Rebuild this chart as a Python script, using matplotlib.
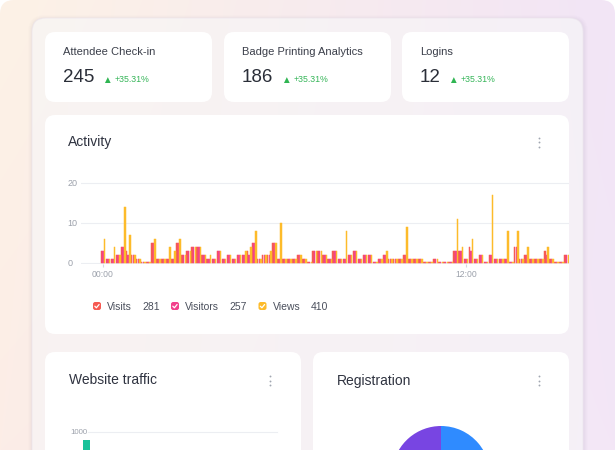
import numpy as np
import matplotlib
matplotlib.use("Agg")
import matplotlib.pyplot as plt
from matplotlib.patches import FancyBboxPatch
from matplotlib.colors import to_rgb

plt.rcParams['font.family'] = ['Liberation Sans', 'DejaVu Sans']

W, H = 615, 450

# --- stat cards
stat_titles = ["Attendee Check-in", "Badge Printing Analytics", "Logins"]
stat_values = ["245", "186", "12"]
stat_changes = ["+35.31%", "+35.31%", "+35.31%"]

# --- activity, 10-minute buckets starting 00:00 (chart is cut at the card edge)
visits = [3, 1, 1, 2, 4, 3, 2, 1, 0.3, 0.3, 5, 1, 1, 1, 1, 5, 2, 3, 4, 4, 2, 1, 1, 3, 1,
          2, 1, 2, 2, 3, 5, 1, 2, 2, 5, 1, 1, 1, 1, 2, 1, 0.3, 3,
          3, 2, 1, 3, 1, 1, 2, 3, 1, 2, 2, 0.3, 1, 2, 1, 1, 1, 2, 1, 1, 1, 0.3, 0.3, 1, 0.3,
          0.3, 0.3, 3, 3, 1, 4, 1, 2, 0.3, 2, 1, 1, 1, 0.3, 4, 1, 2, 1, 1, 1, 3, 1, 0.3, 0.3, 2]
visitors = [3, 1, 1, 2, 4, 2, 2, 1, 0.3, 0.3, 5, 1, 1, 1, 1, 5, 2, 3, 4, 4, 2, 1, 1, 3, 1,
            2, 1, 2, 2, 2, 5, 1, 2, 2, 5, 1, 1, 1, 1, 2, 1, 0.3, 3,
            3, 2, 1, 3, 1, 1, 2, 3, 1, 2, 2, 0.3, 1, 2, 1, 1, 1, 2, 1, 1, 1, 0.3, 0.3, 1, 0.3,
            0.3, 0.3, 3, 3, 1, 3, 1, 2, 0.3, 2, 1, 1, 1, 0.3, 4, 1, 2, 1, 1, 1, 2, 1, 0.3, 0.3, 2]
views = [6, 1, 4, 2, 14, 7, 2, 1, 0.3, 0.3, 6, 1, 1, 4, 3, 6, 2, 3, 4, 4, 2, 2, 1, 3, 1,
         2, 1, 2, 3, 4, 8, 1, 2, 3, 5, 10, 1, 1, 1, 2, 1, 0.3, 3,
         3, 2, 1, 3, 1, 8, 2, 3, 1, 2, 2, 0.3, 1, 3, 1, 1, 1, 9, 1, 1, 1, 0.3, 0.3, 1, 0.3,
         0.3, 0.3, 11, 4, 1, 6, 1, 2, 0.3, 17, 1, 1, 8, 0.3, 8, 1, 4, 1, 1, 1, 4, 1, 0.3, 0.3, 2]
series_names = ["Visits", "Visitors", "Views"]
series_totals = ["281", "257", "410"]
series_colors = ["#f65a52", "#f2418c", "#fdbb2a"]
time_ticks = [0, 72]
time_labels = ["00:00", "12:00"]

# --- bottom cards (only their top parts are visible)
traffic_visits = [900]
registration_shares = [55, 45]
registration_colors = ["#2f8bff", "#7845e2"]

GRID = "#eceef2"
TICK = "#9ca1ab"


def px_axes(fig, x0, y0, x1, y1):
    return fig.add_axes([x0 / W, 1 - y1 / H, (x1 - x0) / W, (y1 - y0) / H])


def card(ax, x0, y0, x1, y1, r=10, fc="white", **kw):
    p = FancyBboxPatch((x0, y0), x1 - x0, y1 - y0,
                       boxstyle=f"round,pad=0,rounding_size={r}", fc=fc, **kw)
    ax.add_patch(p)
    return p


def kebab(ax, x, y):
    ax.scatter([x] * 3, [y - 4.5, y, y + 4.5], s=1.8, c="#a0a6b1", lw=0, zorder=5)


fig = plt.figure(figsize=(W / 100, H / 100), dpi=100, facecolor="white")
bg = fig.add_axes([0, 0, 1, 1])
bg.set_xlim(0, W)
bg.set_ylim(H, 0)
bg.axis("off")

# soft gradient background, clipped to rounded frame
tl, tr = np.array(to_rgb("#fdf2e6")), np.array(to_rgb("#f2e5f6"))
bl, br = np.array(to_rgb("#fcede7")), np.array(to_rgb("#f3e7f7"))
u = np.linspace(0, 1, W)[None, :, None]
v = np.linspace(0, 1, H)[:, None, None]
img = (1 - v) * ((1 - u) * tl + u * tr) + v * ((1 - u) * bl + u * br)
im = bg.imshow(img, extent=(0, W, H, 0), aspect="auto", zorder=0)
frame = FancyBboxPatch((0, 0), W, H + 30, boxstyle="round,pad=0,rounding_size=14",
                       transform=bg.transData)
im.set_clip_path(frame)
bg.set_xlim(0, W)
bg.set_ylim(H, 0)

# outer panel with a faint shadow
for i, a in enumerate([0.025, 0.02, 0.015, 0.01]):
    card(bg, 32 - i - 1, 18 - i, 583 + i + 2, H + 40, r=14 + i, fc="#6b5f80",
         alpha=a, lw=0, zorder=1)
card(bg, 32, 18, 583, H + 40, r=14, fc="white", alpha=0.6,
     ec="#ebe4ec", lw=0.8, zorder=2)

# stat cards
stat_boxes = [(45, 212), (224, 391), (402, 569)]
renderer = fig.canvas.get_renderer()
for (x0, x1), title, val, chg in zip(stat_boxes, stat_titles, stat_values, stat_changes):
    card(bg, x0, 32, x1, 102, r=10, zorder=3, lw=0)
    bg.text(x0 + 18, 52, title, fontsize=8, color="#3b3f4a", va="center", zorder=4)
    t = bg.text(x0 + 18, 77.5, val, fontsize=13.5, color="#2a2e38", va="center", zorder=4)
    right = t.get_window_extent(renderer).x1
    bg.text(right + 7.5, 80, "▲", fontsize=7, color="#2fb552", va="center",
            ha="left", zorder=4)
    bg.text(right + 20, 80, chg, fontsize=6.3, color="#35b558", va="center", zorder=4)

# activity card
card(bg, 45, 115, 569, 334, r=10, zorder=3, lw=0)
bg.text(68, 142, "Activity", fontsize=10, color="#2f3340", va="center", zorder=4)
kebab(bg, 539, 142)

ax = px_axes(fig, 81, 182, 569, 264)
ax.set_zorder(5)
ax.patch.set_alpha(0)
idx = np.arange(len(visits))
for off, vals, col in zip([-0.32, 0, 0.32], [visits, visitors, views], series_colors):
    ax.bar(idx + off, vals, width=0.3, color=col, ec=col, lw=0.35, zorder=3)
ax.set_xlim(-4.37, 92.46)
ax.set_ylim(-0.25, 20.25)
ax.set_yticks([0, 10, 20])
ax.set_xticks(time_ticks)
ax.set_xticklabels(time_labels)
for s in ax.spines.values():
    s.set_visible(False)
ax.grid(axis="y", color=GRID, lw=0.8, zorder=0)
ax.tick_params(axis="y", length=0, labelsize=6.5, labelcolor=TICK, pad=9.5)
for lab in ax.get_yticklabels():
    lab.set_horizontalalignment("left")
ax.tick_params(axis="x", length=2.5, color="#d6d9df", labelsize=6.2, labelcolor=TICK, pad=2)

# legend
leg_icon_x = [97, 175, 262.5]
for x, name, tot, col in zip(leg_icon_x, series_names, series_totals, series_colors):
    card(bg, x - 4, 302, x + 4, 310, r=2.2, fc=col, lw=0, zorder=4)
    bg.plot([x - 2.2, x - 0.6, x + 2.1], [306.2, 307.8, 304.5], color="white",
            lw=0.9, solid_capstyle="round", zorder=5)
    t = bg.text(x + 10, 306.5, name, fontsize=7.5, color="#4a4f5c", va="center", zorder=4)
    right = t.get_window_extent(renderer).x1
    bg.text(right + 10.5, 306.5, tot, fontsize=7.5, color="#4a4f5c", va="center", zorder=4)

# website traffic card
card(bg, 45, 352, 301, H + 30, r=10, zorder=3, lw=0)
bg.text(69, 380.5, "Website traffic", fontsize=10, color="#2f3340", va="center", zorder=4)
kebab(bg, 270, 380.5)
axw = px_axes(fig, 88, 432, 277, 512)
axw.set_zorder(5)
axw.patch.set_alpha(0)
axw.bar(range(len(traffic_visits)), traffic_visits, width=1, color="#19c29a",
        lw=0, clip_on=False)
axw.set_xlim(0.2, 27)
axw.set_ylim(0, 1000)
axw.axhline(1000, color=GRID, lw=0.8, clip_on=False, zorder=0)
axw.set_yticks([1000])
axw.set_xticks([])
axw.tick_params(axis="y", length=0, labelsize=5.7, labelcolor=TICK, pad=12.5)
for lab in axw.get_yticklabels():
    lab.set_horizontalalignment("left")
for s in axw.spines.values():
    s.set_visible(False)

# registration card
card(bg, 313, 352, 569, H + 30, r=10, zorder=3, lw=0)
bg.text(337, 380.5, "Registration", fontsize=10, color="#2f3340", va="center", zorder=4)
kebab(bg, 539, 380.5)
axp = px_axes(fig, 392, 426, 490, 524)
axp.set_zorder(5)
axp.pie(registration_shares, colors=registration_colors, startangle=90,
        counterclock=False, wedgeprops=dict(linewidth=0))
axp.set_xlim(-1, 1)
axp.set_ylim(-1, 1)

fig.savefig("out.png", dpi=100, facecolor="white")
